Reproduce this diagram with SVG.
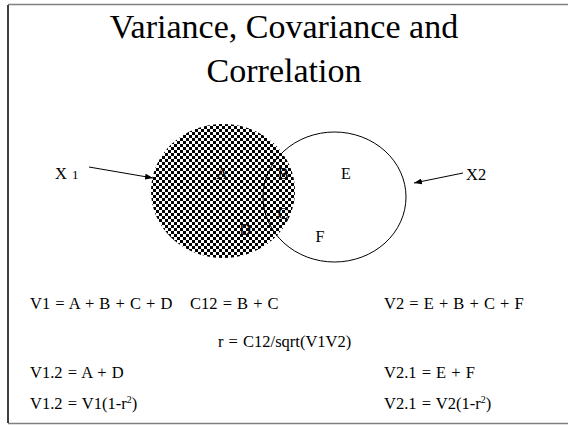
<svg xmlns="http://www.w3.org/2000/svg" width="568" height="427" viewBox="0 0 568 427">
<style>
text { font-family: "Liberation Serif", "Times New Roman", serif; fill: #000; }
.title { font-size: 34px; text-anchor: middle; }
.eq { font-size: 16.5px; word-spacing: 1px; }
.lbl { font-size: 16px; text-anchor: middle; }
.conn { stroke: #000; stroke-width: 1; fill: none; }
</style>
<defs>
<pattern id="checker" width="6" height="6" patternUnits="userSpaceOnUse">
<rect width="6" height="6" fill="#fff"/>
<rect width="3" height="3" fill="#000"/>
<rect x="3" y="3" width="3" height="3" fill="#000"/>
</pattern>
<marker id="arrow" markerWidth="8" markerHeight="6" refX="8" refY="3" orient="auto" markerUnits="userSpaceOnUse">
<path d="M0,0 L8,3 L0,6 Z" fill="#000"/>
</marker>
</defs>
<rect width="568" height="427" fill="#fff"/>
<line x1="8" y1="4.5" x2="568" y2="4.5" stroke="#808080" stroke-width="1.5"/>
<line x1="8" y1="423.5" x2="568" y2="423.5" stroke="#808080" stroke-width="1.5"/>
<line x1="8" y1="5" x2="8" y2="423" stroke="#000" stroke-width="1.5"/>

<g id="title">
<text class="title" x="284" y="38">Variance, Covariance and</text>
<text class="title" x="284" y="82">Correlation</text>
</g>

<g id="circle-x1">
<ellipse cx="223" cy="191" rx="72" ry="67" fill="url(#checker)"/>
</g>
<g id="circle-x2">
<ellipse cx="334.5" cy="197" rx="71.5" ry="65" fill="none" stroke="#000" stroke-width="1"/>
</g>

<g id="regions">
<text class="lbl" x="222" y="179">A</text>
<text class="lbl" x="283" y="179">B</text>
<text class="lbl" x="346" y="179">E</text>
<text class="lbl" x="283" y="219">C</text>
<text class="lbl" x="245" y="235">D</text>
<text class="lbl" x="320" y="242">F</text>
</g>

<g id="label-x1">
<text class="eq" x="55" y="179">X <tspan font-size="13">1</tspan></text>
</g>
<g id="label-x2">
<text class="eq" x="466" y="180">X2</text>
</g>

<g id="connectors">
<line class="conn" x1="89" y1="167" x2="153" y2="178" marker-end="url(#arrow)"/>
<line class="conn" x1="463" y1="173" x2="414" y2="183" marker-end="url(#arrow)"/>
</g>

<g id="equations">
<text class="eq" x="30" y="309">V1 = A + B + C + D</text>
<text class="eq" x="190" y="309">C12 = B + C</text>
<text class="eq" x="384" y="309">V2 = E + B + C + F</text>
<text class="eq" x="218" y="347">r = C12/sqrt(V1V2)</text>
<text class="eq" x="30" y="378">V1.2 = A + D</text>
<text class="eq" x="384" y="378">V2.1 = E + F</text>
<text class="eq" x="30" y="409">V1.2 = V1(1-r<tspan font-size="10" dy="-6">2</tspan><tspan dy="6">)</tspan></text>
<text class="eq" x="384" y="409">V2.1 = V2(1-r<tspan font-size="10" dy="-6">2</tspan><tspan dy="6">)</tspan></text>
</g>
</svg>
